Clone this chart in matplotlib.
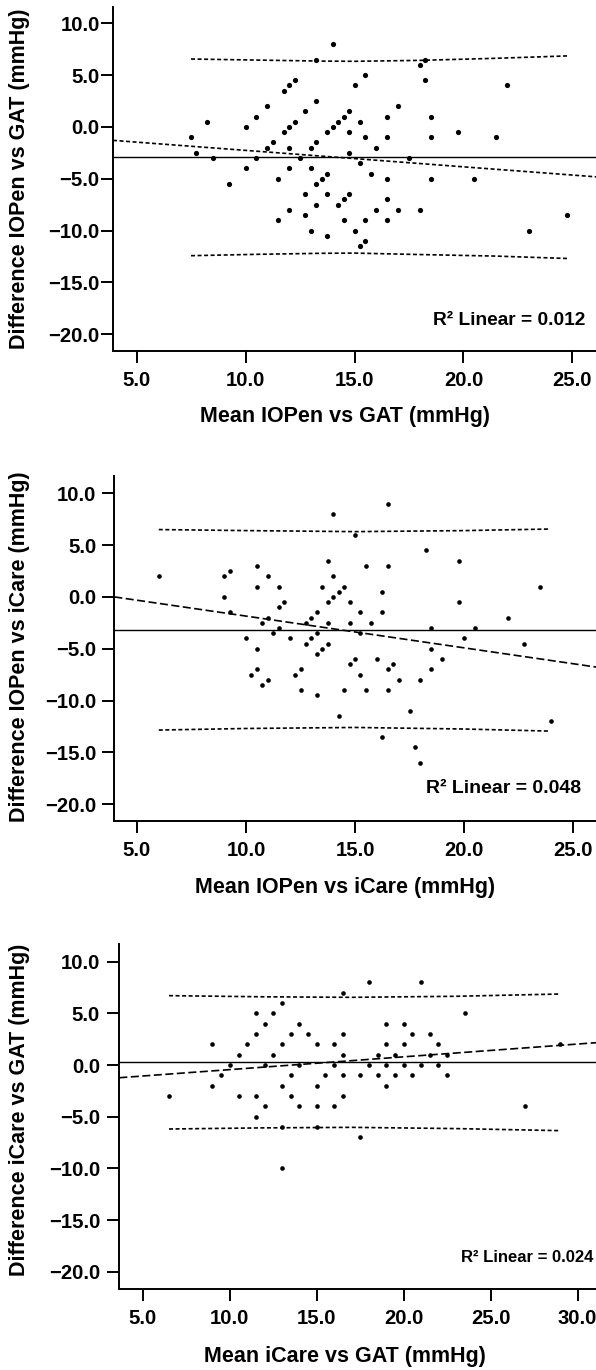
import numpy as np
import matplotlib.pyplot as plt

plt.rcParams['font.family'] = ['Liberation Sans', 'DejaVu Sans']
plt.rcParams['font.weight'] = 'bold'
plt.rcParams['lines.scale_dashes'] = False

# panel 1: IOPen vs GAT
p1_mean = [7.5, 7.75, 8.25, 8.5, 9.25, 10, 10, 10.5, 10.5, 11, 11, 11.25, 11.5, 11.5,
           11.75, 11.75, 12, 12, 12, 12, 12, 12.25, 12.25, 12.5, 12.75, 12.75, 12.75,
           13, 13, 13, 13.25, 13.25, 13.25, 13.25, 13.25, 13.5, 13.75, 13.75, 13.75, 13.75,
           14, 14, 14.25, 14.25, 14.5, 14.5, 14.5, 14.75, 14.75, 14.75, 14.75, 15, 15,
           15.25, 15.25, 15.25, 15.5, 15.5, 15.5, 15.5, 15.75, 16, 16, 16.5, 16.5, 16.5,
           16.5, 16.5, 17, 17, 17.5, 18, 18, 18.25, 18.25, 18.5, 18.5, 18.5, 19.75, 20.5,
           21.5, 22, 23, 24.75]
p1_diff = [-1, -2.5, 0.5, -3, -5.5, 0, -4, 1, -3, 2, -2, -1.5, -5, -9,
           3.5, -0.5, 4, 0, -2, -4, -8, 4.5, 0.5, -3, 1.5, -6.5, -8.5,
           -2, -4, -10, 6.5, 2.5, -1.5, -5.5, -7.5, -5, -4.5, -0.5, -6.5, -10.5,
           8, 0, 0.5, -7.5, 1, -7, -9, 1.5, -0.5, -2.5, -6.5, 4, -10,
           0.5, -3.5, -11.5, 5, -1, -9, -11, -4.5, -2, -8, 1, -1, -5,
           -7, -9, 2, -8, -3, 6, -8, 6.5, 4.5, 1, -1, -5, -0.5, -5,
           -1, 4, -10, -8.5]
p1_bias = -2.9
p1_reg_x = [3.92, 26.08]
p1_reg_y = [-1.3, -4.82]
p1_loa_x = [7.5, 10.5, 13.5, 15.0, 18.0, 21.5, 24.75]
p1_upper = [6.55, 6.45, 6.35, 6.33, 6.42, 6.62, 6.85]
p1_lower = [-12.43, -12.3, -12.2, -12.18, -12.32, -12.47, -12.7]

# panel 2: IOPen vs iCare
p2_mean = [6, 9, 9.25, 9, 9.25, 10, 10.25, 10.5, 10.5, 10.5, 10.5, 10.75, 10.75, 11,
           11, 11, 11.25, 11.5, 11.5, 11.5, 11.75, 12, 12.25, 12.5, 12.5, 12.75, 12.75,
           13, 13, 13.25, 13.25, 13.25, 13.25, 13.5, 13.5, 13.75, 13.75, 13.75, 13.75,
           14, 14, 14, 14.25, 14.25, 14.5, 14.5, 14.75, 14.75, 14.75, 15, 15, 15.25,
           15.25, 15.25, 15.5, 15.5, 15.75, 16, 16.25, 16.25, 16.25, 16.5, 16.5, 16.5,
           16.5, 16.75, 17, 17.5, 17.75, 18, 18, 18.25, 18.5, 18.5, 18.5, 19, 19.75,
           19.75, 20, 20.5, 22, 22.75, 23.5, 24]
p2_diff = [2, 2, 2.5, 0, -1.5, -4, -7.5, 3, 1, -5, -7, -2.5, -8.5, 2,
           -2, -8, -3.5, 1, -1, -3, -0.5, -4, -7.5, -7, -9, -2.5, -4.5,
           -2, -4, -1.5, -3.5, -5.5, -9.5, 1, -5, 3.5, -0.5, -2.5, -4.5,
           8, 2, 0, 0.5, -11.5, 1, -9, -0.5, -2.5, -6.5, 6, -6, -1.5,
           -3.5, -7.5, 3, -9, -2.5, -6, 0.5, -1.5, -13.5, 9, 3, -7,
           -9, -6.5, -8, -11, -14.5, -8, -16, 4.5, -3, -5, -7, -6, 3.5,
           -0.5, -4, -3, -2, -4.5, 1, -12]
p2_bias = -3.15
p2_reg_x = [3.96, 26.05]
p2_reg_y = [0.0, -6.77]
p2_loa_x = [6.0, 10.0, 15.0, 20.0, 23.9]
p2_upper = [6.5, 6.4, 6.3, 6.4, 6.55]
p2_lower = [-12.85, -12.7, -12.6, -12.75, -12.95]

# panel 3: iCare vs GAT
p3_mean = [6.5, 9, 9, 9.5, 10, 10.5, 10.5, 11, 11.5, 11.5, 11.5, 11.5, 12, 12, 12,
           12.5, 12.5, 13, 13, 13, 13, 13, 13.5, 13.5, 13.5, 14, 14, 14, 14.5, 15, 15,
           15, 15, 15.5, 16, 16, 16, 16.5, 16.5, 16.5, 16.5, 16.5, 17.5, 17.5, 18, 18,
           18.5, 18.5, 19, 19, 19, 19, 19.5, 19.5, 20, 20, 20, 20.5, 20.5, 21, 21,
           21.5, 21.5, 22, 22, 22.5, 22.5, 23.5, 27, 29]
p3_diff = [-3, 2, -2, -1, 0, 1, -3, 2, 5, 3, -3, -5, 4, 0, -4,
           5, 1, 6, 2, -2, -6, -10, 3, -1, -3, 4, 0, -4, 3, 2, -2,
           -4, -6, -1, 2, 0, -4, 7, 3, 1, -1, -3, -1, -7, 8, 0,
           1, -1, 4, 2, 0, -2, 1, -1, 4, 2, 0, 3, -1, 8, 0,
           3, 1, 2, 0, 1, -1, 5, -4, 2]
p3_bias = 0.29
p3_reg_x = [3.64, 31.06]
p3_reg_y = [-1.23, 2.16]
p3_loa_x = [6.5, 12.0, 17.0, 23.0, 29.0]
p3_upper = [6.71, 6.6, 6.55, 6.65, 6.87]
p3_lower = [-6.19, -6.08, -6.03, -6.15, -6.35]

yticks = [-20, -15, -10, -5, 0, 5, 10]

W, H = 596, 1370
fig = plt.figure(figsize=(W / 100, H / 100), dpi=100)


def add_ax(left, top, bottom, right=596):
    return fig.add_axes([left / W, 1 - bottom / H, (right - left) / W, (bottom - top) / H])


def panel(ax, mx, dy, bias, rx, ry, lx, lu, ll, xlim, ylim, xticks,
          reg_dash, ms, ypad, r2, r2pos, r2ha, r2size):
    ax.set_xlim(xlim)
    ax.set_ylim(ylim)
    ax.axhline(bias, color='k', lw=1.0, zorder=2)
    ax.plot(rx, ry, color='k', lw=1.2, dashes=reg_dash, zorder=2)
    ax.plot(lx, lu, color='k', lw=1.2, dashes=(2.9, 1.8), zorder=2)
    ax.plot(lx, ll, color='k', lw=1.2, dashes=(2.9, 1.8), zorder=2)
    ax.scatter(mx, dy, s=ms, color='k', linewidths=0, zorder=3)
    for s in ['top', 'right']:
        ax.spines[s].set_visible(False)
    for s in ['left', 'bottom']:
        ax.spines[s].set_linewidth(1.4)
    ax.set_xticks(xticks)
    ax.set_yticks(yticks)
    ax.set_xticklabels(['%.1f' % t for t in xticks])
    ax.set_yticklabels([('%.1f' % t).replace('-', '\u2212') for t in yticks])
    ax.tick_params(axis='both', direction='out', length=8.8, width=1.4,
                   labelsize=14.6)
    ax.tick_params(axis='x', pad=5.5)
    ax.tick_params(axis='y', pad=ypad)
    for lab in ax.get_xticklabels() + ax.get_yticklabels():
        lab.set_fontweight('bold')
    ax.text(r2pos[0], r2pos[1], r2, transform=ax.transAxes, ha=r2ha, va='center',
            fontsize=r2size, fontweight='bold')


ax1 = add_ax(113, 6.7, 350.7)
panel(ax1, p1_mean, p1_diff, p1_bias, p1_reg_x, p1_reg_y, p1_loa_x, p1_upper, p1_lower,
      (3.92, 26.08), (-21.6, 11.6), [5, 10, 15, 20, 25], (2.9, 1.8), 14, 0.8,
      'R\u00b2 Linear = 0.012', (0.977, 0.089), 'right', 13.8)

ax2 = add_ax(114.3, 476, 820.7)
panel(ax2, p2_mean, p2_diff, p2_bias, p2_reg_x, p2_reg_y, p2_loa_x, p2_upper, p2_lower,
      (3.96, 26.05), (-21.6, 11.67), [5, 10, 15, 20, 25], (5.8, 2.5), 11, 4.0,
      'R\u00b2 Linear = 0.048', (0.970, 0.094), 'right', 14)

ax3 = add_ax(119.3, 944.3, 1289.3)
panel(ax3, p3_mean, p3_diff, p3_bias, p3_reg_x, p3_reg_y, p3_loa_x, p3_upper, p3_lower,
      (3.64, 31.06), (-21.7, 11.68), [5, 10, 15, 20, 25, 30], (5.8, 2.5), 11, 5.0,
      'R\u00b2 Linear = 0.024', (0.995, 0.091), 'right', 12)

xlabels = ['Mean IOPen vs GAT (mmHg)', 'Mean IOPen vs iCare (mmHg)', 'Mean iCare vs GAT (mmHg)']
ylabels = ['Difference IOPen vs GAT (mmHg)', 'Difference IOPen vs iCare (mmHg)',
           'Difference iCare vs GAT (mmHg)']
xlab_y = [416.8, 887, 1356.7]
ylab_y = [178.5, 646.7, 1110]

for t, yy in zip(xlabels, xlab_y):
    fig.text(345 / W, 1 - yy / H, t, ha='center', va='center', fontsize=15.5,
             fontweight='bold')
for t, yy in zip(ylabels, ylab_y):
    fig.text(20 / W, 1 - yy / H, t, ha='center', va='center', rotation=90,
             fontsize=15.5, fontweight='bold')

fig.savefig('out.png', dpi=100)
